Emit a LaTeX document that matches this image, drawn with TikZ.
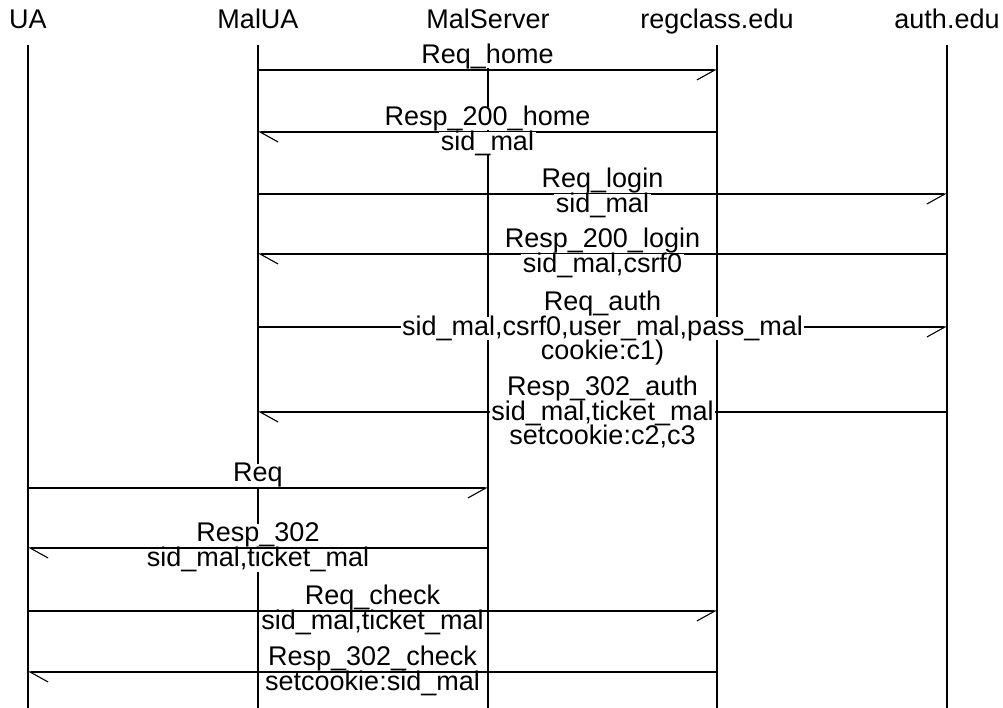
\documentclass[tikz,border=0pt]{standalone}
\usepackage{fontspec}
\setmainfont{Liberation Sans}
\usetikzlibrary{arrows.meta}
\tikzset{
  lbl/.style={fill=white,anchor=base,inner xsep=1.5pt,inner ysep=0pt,
    text height=18pt,text depth=5pt},
  toright/.style={-{Straight Barb[harpoon,swap,length=18pt,width=20pt]}},
  toleft/.style={-{Straight Barb[harpoon,length=18pt,width=20pt]}}
}
\begin{document}
\begin{tikzpicture}[x=1pt,y=-1pt,line width=1.1pt,
  font=\fontsize{27}{27}\selectfont]
\useasboundingbox (0,0) rectangle (1003,708);
% entities and their lifelines
\foreach \n/\t/\x in {ua/UA/28,mua/MalUA/258,msrv/MalServer/488,%
reg/regclass.edu/717,auth/auth.edu/947}{
\node[anchor=base] (\n) at (\x,28.5) {\t};
\draw (\n |- 0,45) -- (\n |- 0,708);
}
% messages
\foreach \a/\b/\y/\d in {mua/reg/70/toright,reg/mua/132/toleft,%
mua/auth/194/toright,auth/mua/254/toleft,mua/auth/327/toright,%
auth/mua/412/toleft,ua/msrv/488/toright,msrv/ua/548/toleft,%
ua/reg/611/toright,reg/ua/672/toleft}
\draw[\d] (\a |- 0,\y) -- (\b |- 0,\y) coordinate[midway] (m\y);
%
\node[lbl] (reqhome) at ([yshift=6.5pt]m70) {Req\_home};
\node[lbl] (resphome) at ([yshift=6.5pt]m132) {Resp\_200\_home};
\node[lbl] (resphomeb) at ([yshift=-18.5pt]m132) {sid\_mal};
\node[lbl] (reqlogin) at ([yshift=6.5pt]m194) {Req\_login};
\node[lbl] (reqloginb) at ([yshift=-18.5pt]m194) {sid\_mal};
\node[lbl] (resplogin) at ([yshift=6.5pt]m254) {Resp\_200\_login};
\node[lbl] (resploginb) at ([yshift=-18.5pt]m254) {sid\_mal,csrf0};
\node[lbl] (reqauth) at ([yshift=17pt]m327) {Req\_auth};
\node[lbl] (reqauthb) at ([yshift=-8pt]m327)
  {sid\_mal,csrf0,user\_mal,pass\_mal};
\node[lbl] (reqauthc) at ([yshift=-32.5pt]m327) {cookie:c1)};
\node[lbl] (respauth) at ([yshift=17pt]m412) {Resp\_302\_auth};
\node[lbl] (respauthb) at ([yshift=-8pt]m412) {sid\_mal,ticket\_mal};
\node[lbl] (respauthc) at ([yshift=-32.5pt]m412) {setcookie:c2,c3};
\node[lbl] (req) at ([yshift=6.5pt]m488) {Req};
\node[lbl] (resp) at ([yshift=6.5pt]m548) {Resp\_302};
\node[lbl] (respb) at ([yshift=-18.5pt]m548) {sid\_mal,ticket\_mal};
\node[lbl] (reqcheck) at ([yshift=6.5pt]m611) {Req\_check};
\node[lbl] (reqcheckb) at ([yshift=-18.5pt]m611) {sid\_mal,ticket\_mal};
\node[lbl] (respcheck) at ([yshift=6.5pt]m672) {Resp\_302\_check};
\node[lbl] (respcheckb) at ([yshift=-18.5pt]m672) {setcookie:sid\_mal};
\end{tikzpicture}
\end{document}
